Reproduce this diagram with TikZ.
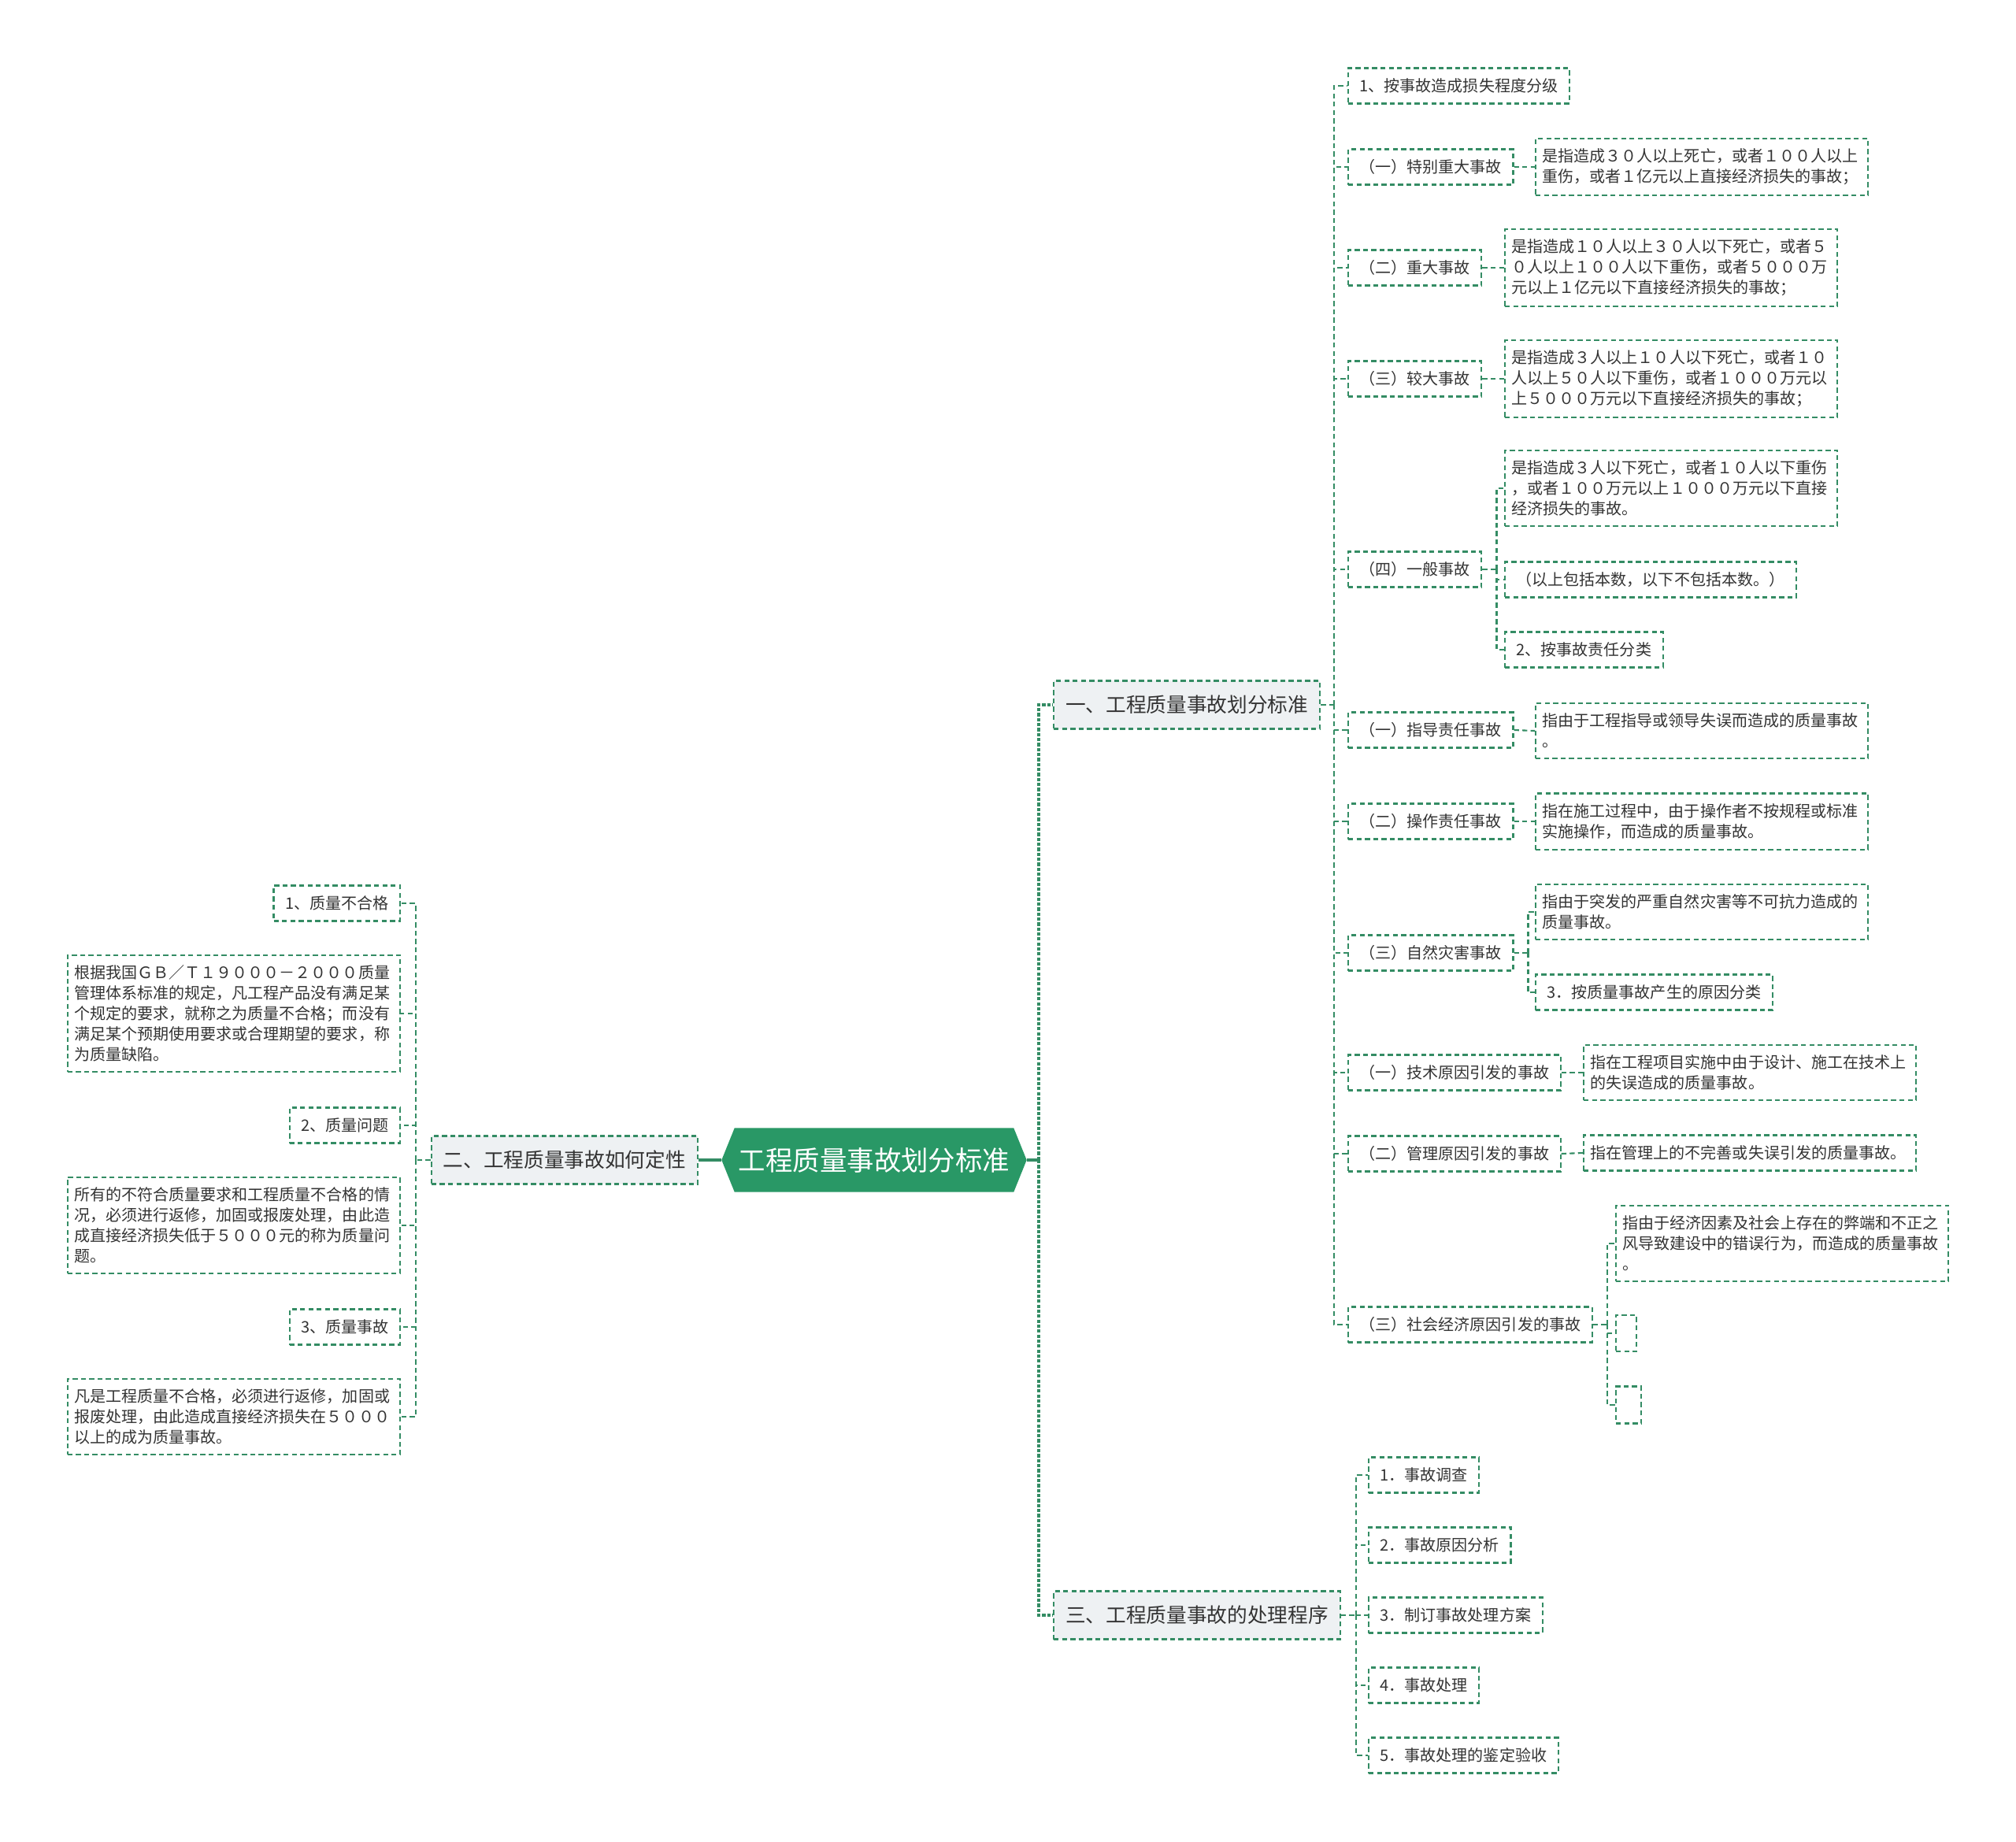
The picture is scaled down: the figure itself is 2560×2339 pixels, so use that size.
\documentclass[tikz,border=0pt]{standalone}
\usepackage{fontspec}
\newfontfamily\cjk{Noto Sans CJK SC}
\usetikzlibrary{shapes.symbols}
\definecolor{linegreen}{RGB}{52,140,100}
\definecolor{rootgreen}{RGB}{41,152,102}
\definecolor{branchgray}{RGB}{238,241,243}
\definecolor{textgray}{RGB}{51,51,51}
\tikzset{
  leafbox/.style={draw=linegreen, line width=0.6pt, dash pattern=on 1.8pt off 1.2pt,
    text=textgray, font=\cjk\fontsize{5.7}{7.4}\selectfont,
    inner xsep=0.145cm, inner ysep=0.1cm, minimum height=0.45cm},
  parabox/.style={leafbox, align=left, text width=4.05cm, inner xsep=0.085cm, inner ysep=0.13cm},
  branchbox/.style={leafbox, fill=branchgray, font=\cjk\fontsize{7.3}{9}\selectfont,
    inner xsep=0.15cm, minimum height=0.61cm},
  rootbox/.style={shape=signal, signal to=west and east, signal pointer angle=136,
    fill=rootgreen, text=white, font=\cjk\fontsize{9.8}{12}\selectfont,
    minimum width=3.66cm, minimum height=0.81cm, inner xsep=0.05cm},
  linkline/.style={draw=linegreen, line width=0.6pt, dash pattern=on 1.8pt off 1.2pt},
  trunkline/.style={draw=linegreen, line width=0.9pt, dash pattern=on 1.2pt off 0.6pt},
}
\begin{document}
\begin{tikzpicture}[x=0.01cm, y=-0.01cm]
\useasboundingbox (0,0) rectangle (2560,2339);

% root
\node[rootbox] (root) at (1110,1473) {工程质量事故划分标准};

% left side
\node[branchbox, anchor=east] (def) at (887,1473) {二、工程质量事故如何定性};
\node[leafbox, anchor=east] (q1) at (509,1147) {1、质量不合格};
\node[parabox, anchor=east] (q1t) at (509,1287) {根据我国ＧＢ／Ｔ１９０００－２０００质量\\管理体系标准的规定，凡工程产品没有满足某\\个规定的要求，就称之为质量不合格；而没有\\满足某个预期使用要求或合理期望的要求，称\\为质量缺陷。};
\node[leafbox, anchor=east] (q2) at (509,1429) {2、质量问题};
\node[parabox, anchor=east] (q2t) at (509,1556) {所有的不符合质量要求和工程质量不合格的情\\况，必须进行返修，加固或报废处理，由此造\\成直接经济损失低于５０００元的称为质量问\\题。};
\node[leafbox, anchor=east] (q3) at (509,1685) {3、质量事故};
\node[parabox, anchor=east] (q3t) at (509,1799) {凡是工程质量不合格，必须进行返修，加固或\\报废处理，由此造成直接经济损失在５０００\\以上的成为质量事故。};

% right side branches
\node[branchbox, anchor=west] (std) at (1337,895) {一、工程质量事故划分标准};
\node[branchbox, anchor=west] (proc) at (1337,2051) {三、工程质量事故的处理程序};

% standard children
\node[leafbox, anchor=west] (a1) at (1711,109) {1、按事故造成损失程度分级};
\node[leafbox, anchor=west] (a2) at (1711,212) {（一）特别重大事故};
\node[leafbox, anchor=west] (a3) at (1711,340) {（二）重大事故};
\node[leafbox, anchor=west] (a4) at (1711,481) {（三）较大事故};
\node[leafbox, anchor=west] (a5) at (1711,723) {（四）一般事故};
\node[leafbox, anchor=west] (a6) at (1711,927) {（一）指导责任事故};
\node[leafbox, anchor=west] (a7) at (1711,1043) {（二）操作责任事故};
\node[leafbox, anchor=west] (a8) at (1711,1210) {（三）自然灾害事故};
\node[leafbox, anchor=west] (a9) at (1711,1362) {（一）技术原因引发的事故};
\node[leafbox, anchor=west] (a10) at (1711,1465) {（二）管理原因引发的事故};
\node[leafbox, anchor=west] (a11) at (1711,1682) {（三）社会经济原因引发的事故};

\node[parabox, anchor=west] (a2t) at (1949,212) {是指造成３０人以上死亡，或者１００人以上\\重伤，或者１亿元以上直接经济损失的事故；};
\node[parabox, anchor=west] (a3t) at (1910,340) {是指造成１０人以上３０人以下死亡，或者５\\０人以上１００人以下重伤，或者５０００万\\元以上１亿元以下直接经济损失的事故；};
\node[parabox, anchor=west] (a4t) at (1910,481) {是指造成３人以上１０人以下死亡，或者１０\\人以上５０人以下重伤，或者１０００万元以\\上５０００万元以下直接经济损失的事故；};
\node[parabox, anchor=west] (a5t) at (1910,620) {是指造成３人以下死亡，或者１０人以下重伤\\，或者１００万元以上１０００万元以下直接\\经济损失的事故。};
\node[leafbox, anchor=west] (a5n) at (1910,736) {（以上包括本数，以下不包括本数。）};
\node[leafbox, anchor=west] (a5r) at (1910,825) {2、按事故责任分类};
\node[parabox, anchor=west] (a6t) at (1949,928) {指由于工程指导或领导失误而造成的质量事故\\。};
\node[parabox, anchor=west] (a7t) at (1949,1043) {指在施工过程中，由于操作者不按规程或标准\\实施操作，而造成的质量事故。};
\node[parabox, anchor=west] (a8t) at (1949,1158) {指由于突发的严重自然灾害等不可抗力造成的\\质量事故。};
\node[leafbox, anchor=west] (a8r) at (1949,1260) {3．按质量事故产生的原因分类};
\node[parabox, anchor=west] (a9t) at (2010,1362) {指在工程项目实施中由于设计、施工在技术上\\的失误造成的质量事故。};
\node[parabox, anchor=west] (a10t) at (2010,1464) {指在管理上的不完善或失误引发的质量事故。};
\node[parabox, anchor=west] (a11t) at (2051,1579) {指由于经济因素及社会上存在的弊端和不正之\\风导致建设中的错误行为，而造成的质量事故\\。};
\node[leafbox, anchor=west, inner xsep=0pt, minimum width=0.26cm, minimum height=0.46cm] (a11e1) at (2051,1693) {};
\node[leafbox, anchor=west, inner xsep=0pt, minimum width=0.32cm, minimum height=0.47cm] (a11e2) at (2051,1784) {};

% procedure children
\node[leafbox, anchor=west] (c1) at (1737,1873) {1．事故调查};
\node[leafbox, anchor=west] (c2) at (1737,1962) {2．事故原因分析};
\node[leafbox, anchor=west] (c3) at (1737,2051) {3．制订事故处理方案};
\node[leafbox, anchor=west] (c4) at (1737,2140) {4．事故处理};
\node[leafbox, anchor=west] (c5) at (1737,2229) {5．事故处理的鉴定验收};

% connectors
\draw[draw=linegreen, line width=0.9pt] (root.west) -- (def.east);
\coordinate (tr) at (1319,1473);
\draw[draw=linegreen, line width=0.9pt] (root.east) -- (tr);
\draw[trunkline] (tr) |- (std.west);
\draw[trunkline] (tr) |- (proc.west);

\draw[linkline] (def.west) -- ++(-19,0) coordinate (sl);
\foreach \n in {q1,q1t,q2,q2t,q3,q3t}
  \draw[linkline] (sl) |- (\n.east);

\draw[linkline] (std.east) -- ++(17,0) coordinate (sa);
\foreach \n in {a1,a2,a3,a4,a5,a6,a7,a8,a9,a10,a11}
  \draw[linkline] (sa) |- (\n.west);
\foreach \p/\c in {a2/a2t,a3/a3t,a4/a4t,a6/a6t,a7/a7t,a9/a9t,a10/a10t}
  \draw[linkline] (\p.east) -- (\c.west);

\draw[linkline] (a5.east) -- ++(18,0) coordinate (s5);
\foreach \n in {a5t,a5n,a5r}
  \draw[linkline] (s5) |- (\n.west);
\draw[linkline] (a8.east) -- ++(18,0) coordinate (s8);
\foreach \n in {a8t,a8r}
  \draw[linkline] (s8) |- (\n.west);
\draw[linkline] (a11.east) -- ++(18,0) coordinate (s11);
\foreach \n in {a11t,a11e1,a11e2}
  \draw[linkline] (s11) |- (\n.west);

\draw[linkline] (proc.east) -- ++(19,0) coordinate (sc);
\foreach \n in {c1,c2,c3,c4,c5}
  \draw[linkline] (sc) |- (\n.west);
\end{tikzpicture}
\end{document}
